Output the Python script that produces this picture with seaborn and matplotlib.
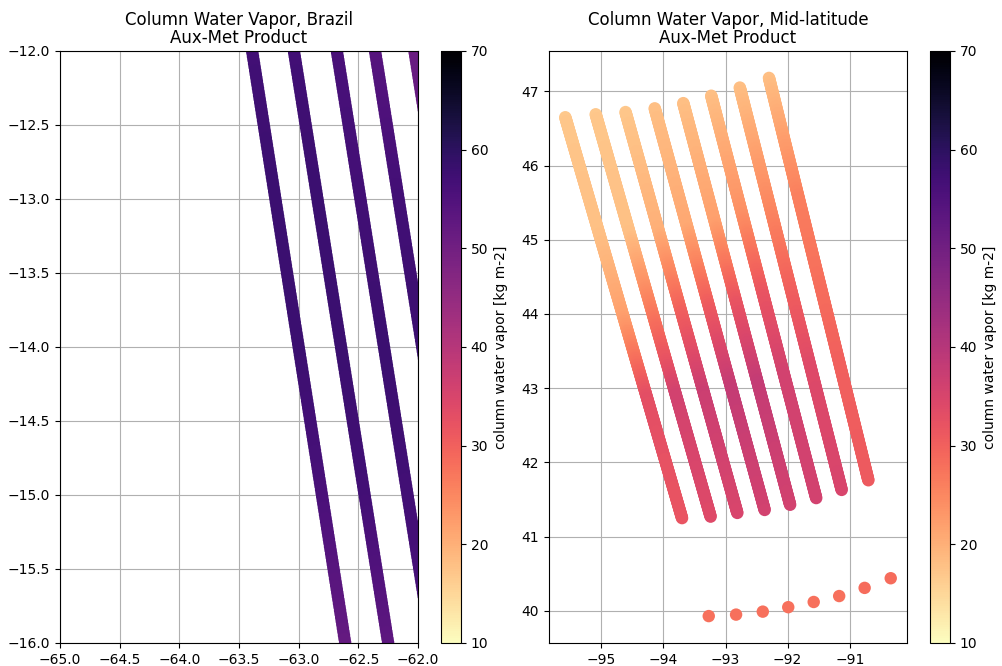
import numpy as np
import pandas as pd
import matplotlib
matplotlib.use("Agg")
import matplotlib.pyplot as plt
import seaborn as sns
from matplotlib.colors import Normalize
from matplotlib.cm import ScalarMappable

# ---------------- data ----------------
# Brazil: 5 tracks, lon at lat -12 and lat -16 (track is straight)
brazil_lon_at_n12 = [-63.39, -63.04, -62.68, -62.36, -62.03]
brazil_lon_at_n16 = [-62.61, -62.25, -61.89, -61.57, -61.24]
brazil_anchor_lat = [-12.0, -13.0, -14.0, -15.0, -16.0]
brazil_cwv = [
    [57, 58, 58, 56, 52],
    [57, 58, 58, 57, 53],
    [56, 57, 58, 57, 56],
    [54, 57, 58, 58, 57],
    [51, 54, 56, 57, 57],
]

# Mid-latitude: 8 tracks, start (top) and end (bottom) points
mid_top_lon = [-95.58, -95.09, -94.61, -94.14, -93.68, -93.23, -92.77, -92.30]
mid_top_lat = [46.65, 46.69, 46.72, 46.77, 46.84, 46.94, 47.05, 47.18]
mid_bot_lon = [-93.70, -93.24, -92.81, -92.37, -91.96, -91.54, -91.13, -90.70]
mid_bot_lat = [41.25, 41.27, 41.32, 41.36, 41.43, 41.52, 41.63, 41.76]
mid_anchor_frac = [0.0, 0.3, 0.5, 0.7, 1.0]
mid_cwv = [
    [17, 18, 22, 33, 32],
    [17, 18, 27, 36, 34],
    [17, 20, 30, 37, 35],
    [18, 21, 31, 38, 36],
    [18, 22, 32, 38, 36],
    [18, 24, 32, 36, 36],
    [18, 25, 30, 34, 35],
    [18, 26, 28, 30, 31],
]
# isolated soundings near 40N
dot_lon = [-93.27, -92.83, -92.40, -91.99, -91.58, -91.17, -90.76, -90.34]
dot_lat = [39.93, 39.95, 39.99, 40.05, 40.12, 40.20, 40.31, 40.44]
dot_cwv = [28, 28, 28, 28, 28, 28, 28.5, 28.5]

VMIN, VMAX = 10, 70
CMAP = "magma_r"

# ---------------- build sounding tables ----------------
rows = []
for i in range(len(brazil_lon_at_n12)):
    lats = np.arange(-11.7, -16.3, -0.024)
    t = (lats - (-12.0)) / (-4.0)
    lons = brazil_lon_at_n12[i] + t * (brazil_lon_at_n16[i] - brazil_lon_at_n12[i])
    vals = np.interp(-lats, [-a for a in brazil_anchor_lat], brazil_cwv[i])
    for lo, la, v in zip(lons, lats, vals):
        rows.append((lo, la, v))
df_brazil = pd.DataFrame(rows, columns=["lon", "lat", "cwv"])

rows = []
for i in range(len(mid_top_lon)):
    n = 400
    f = np.linspace(0, 1, n)
    lons = mid_top_lon[i] + f * (mid_bot_lon[i] - mid_top_lon[i])
    lats = mid_top_lat[i] + f * (mid_bot_lat[i] - mid_top_lat[i])
    vals = np.interp(f, mid_anchor_frac, mid_cwv[i])
    for lo, la, v in zip(lons, lats, vals):
        rows.append((lo, la, v))
df_mid = pd.DataFrame(rows, columns=["lon", "lat", "cwv"])
df_dots = pd.DataFrame({"lon": dot_lon, "lat": dot_lat, "cwv": dot_cwv})

# ---------------- figure ----------------
fig = plt.figure(figsize=(10.03, 6.66), dpi=100)
W, H = 1003, 666
def box(x0, x1, y0, y1):
    return [x0 / W, 1 - y1 / H, (x1 - x0) / W, (y1 - y0) / H]

ax1 = fig.add_axes(box(60, 418, 51, 643))
cax1 = fig.add_axes(box(441, 461, 51, 643))
ax2 = fig.add_axes(box(549, 907, 51, 643))
cax2 = fig.add_axes(box(930, 950, 51, 643))

norm = Normalize(vmin=VMIN, vmax=VMAX)

sns.scatterplot(data=df_brazil, x="lon", y="lat", hue="cwv", palette=CMAP,
                hue_norm=norm, s=80, linewidth=0, legend=False, ax=ax1, zorder=2)
ax1.set_xlim(-65, -62)
ax1.set_ylim(-16, -12)
ax1.set_xticks(np.arange(-65, -61.9, 0.5))
ax1.set_yticks(np.arange(-16, -11.9, 0.5))
ax1.set_title("Column Water Vapor, Brazil\nAux-Met Product", fontsize=12, linespacing=0.95)

sns.scatterplot(data=df_mid, x="lon", y="lat", hue="cwv", palette=CMAP,
                hue_norm=norm, s=80, linewidth=0, legend=False, ax=ax2, zorder=2)
sns.scatterplot(data=df_dots, x="lon", y="lat", hue="cwv", palette=CMAP,
                hue_norm=norm, s=80, linewidth=0, legend=False, ax=ax2, zorder=2)
ax2.set_title("Column Water Vapor, Mid-latitude\nAux-Met Product", fontsize=12, linespacing=0.95)

for ax in (ax1, ax2):
    ax.set_xlabel("")
    ax.set_ylabel("")
    ax.grid(True, color="#b0b0b0", linewidth=0.8)
    ax.set_axisbelow(True)

for cax in (cax1, cax2):
    sm = ScalarMappable(norm=norm, cmap=CMAP)
    cb = fig.colorbar(sm, cax=cax)
    cb.set_ticks([10, 20, 30, 40, 50, 60, 70])
    cb.set_label("column water vapor [kg m-2]")

fig.savefig("out.png", dpi=100)
